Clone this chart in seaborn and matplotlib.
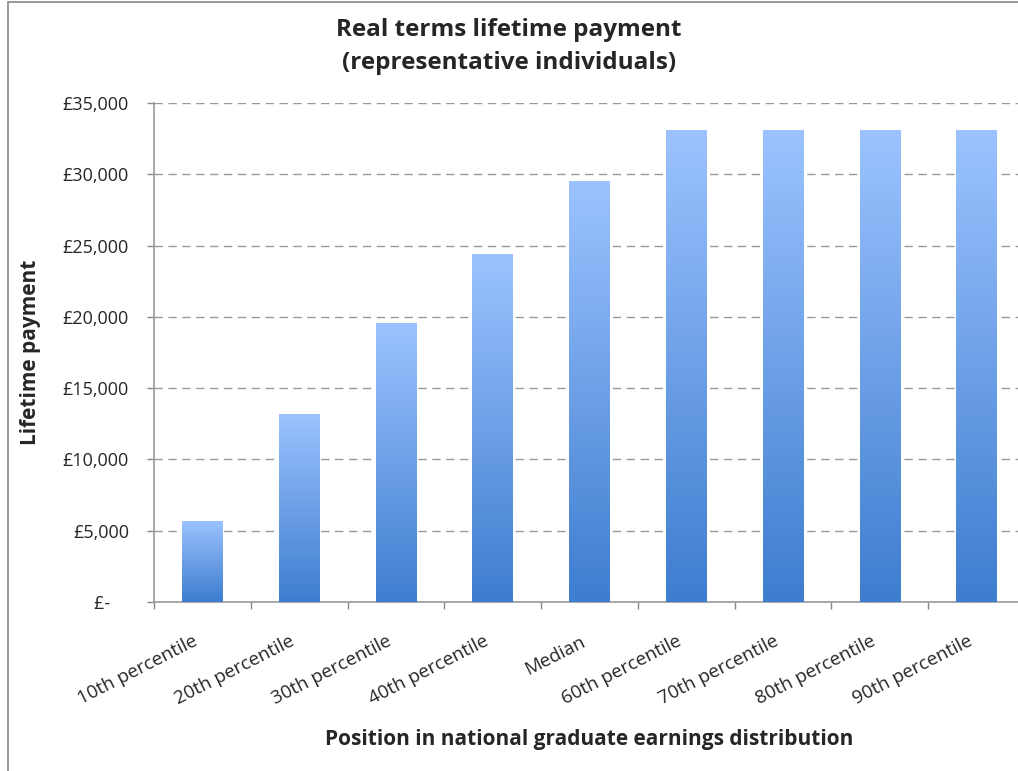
import matplotlib
matplotlib.use("Agg")
import matplotlib.pyplot as plt
import matplotlib.patches as mpatches
from matplotlib.colors import LinearSegmentedColormap
import seaborn as sns
import numpy as np
import pandas as pd

# data
positions = ["10th percentile", "20th percentile", "30th percentile", "40th percentile",
             "Median", "60th percentile", "70th percentile", "80th percentile",
             "90th percentile"]
payments = [5700, 13200, 19600, 24400, 29500, 33100, 33100, 33100, 33100]
yticks = [0, 5000, 10000, 15000, 20000, 25000, 30000, 35000]
yticklabels = ["£-    ", "£5,000", "£10,000", "£15,000", "£20,000", "£25,000", "£30,000", "£35,000"]

df = pd.DataFrame({"position": positions, "payment": payments})

sns.set_style("white")
plt.rcParams["font.family"] = ["Open Sans", "DejaVu Sans"]

W, H = 1018, 771
fig = plt.figure(figsize=(W / 100, H / 100), dpi=100)
ax = fig.add_axes([154 / W, 1 - 602 / H, (1025 - 154) / W, (602 - 103) / H])

sns.barplot(data=df, x="position", y="payment", color="#6f9de6", width=0.42, ax=ax,
            saturation=1)

# gradient fill, light at top, dark at bottom
cmap = LinearSegmentedColormap.from_list("bargrad", ["#3e7dcf", "#9cc3ff"])
grad = np.linspace(0, 1, 256).reshape(-1, 1)
for bar in ax.patches:
    x0, y0 = bar.get_x(), bar.get_y()
    w, h = bar.get_width(), bar.get_height()
    im = ax.imshow(grad, cmap=cmap, aspect="auto", origin="lower",
                   extent=[x0, x0 + w, y0, y0 + h], zorder=3)
    im.set_clip_path(bar)
    bar.set_alpha(0)

ax.set_xlim(-0.5, len(positions) - 0.5)
ax.set_ylim(0, 35000)
ax.set_yticks(yticks)
ax.set_yticklabels(yticklabels, fontsize=13)
ax.yaxis.grid(True, linestyle=(0, (6, 4)), color="#999999", linewidth=1)
ax.set_axisbelow(True)

# label anchors sit a little left of the bar centres, like Excel does
ax.set_xticks(np.arange(len(positions)) - 0.1)
ax.set_xticklabels(positions, rotation=27, ha="right", va="top",
                   rotation_mode="anchor", fontsize=13.5)
ax.set_xticks(np.arange(-0.5, len(positions), 1), minor=True)
ax.tick_params(axis="x", which="major", length=0, pad=22)
ax.tick_params(axis="x", which="minor", length=5, color="#888888", width=1, bottom=True)
ax.tick_params(axis="y", length=5, color="#888888", width=1, left=True, pad=13)

for side in ["top", "right"]:
    ax.spines[side].set_visible(False)
for side in ["left", "bottom"]:
    ax.spines[side].set_color("#999999")
    ax.spines[side].set_linewidth(1.2)

ax.set_xlabel("Position in national graduate earnings distribution", fontsize=15,
              fontweight="bold")
ax.xaxis.set_label_coords(0.5, (602 - 740) / 499)
ax.xaxis.label.set_va("center")
ax.set_ylabel("Lifetime payment", fontsize=15, fontweight="bold")
ax.yaxis.set_label_coords((31 - 154) / 871, 0.5)
ax.yaxis.label.set_va("center")

fig.text(0.5, 1 - 30 / H, "Real terms lifetime payment", ha="center", va="center",
         fontsize=17.5, fontweight="bold")
fig.text(0.5, 1 - 63 / H, "(representative individuals)", ha="center", va="center",
         fontsize=17.5, fontweight="bold")

# chart area border
fig.patches.append(mpatches.Rectangle((8 / W, -0.02), 1.1, 1 - 2 / H + 0.02,
                                      transform=fig.transFigure, fill=False,
                                      edgecolor="#888888", linewidth=1.2))

fig.savefig("out.png", dpi=100)
